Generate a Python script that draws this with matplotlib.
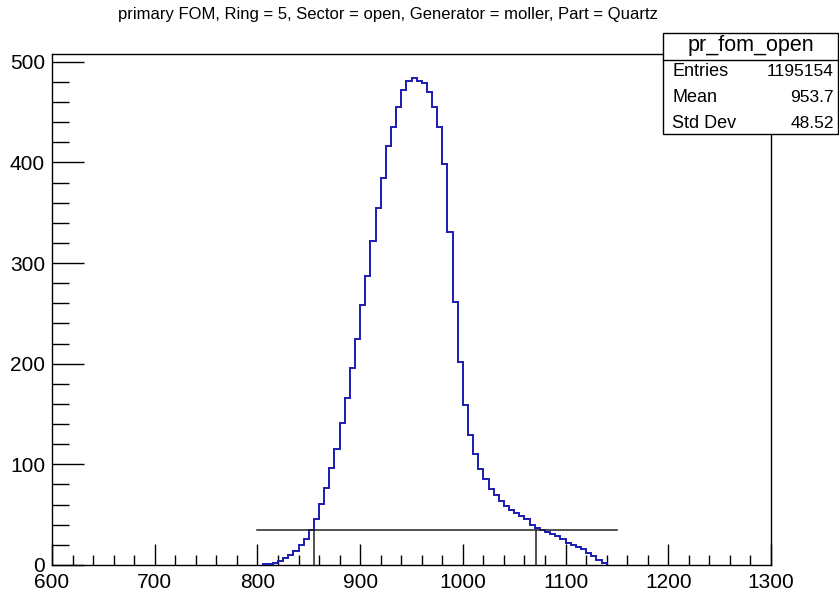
import numpy as np
import matplotlib
matplotlib.use('Agg')
import matplotlib.pyplot as plt
from matplotlib import font_manager
from matplotlib.patches import Rectangle
from matplotlib.lines import Line2D
from matplotlib.ticker import MultipleLocator

# histogram contents, 5-unit bins starting at 805
bin_lo = 805
bin_width = 5
counts = [0.5, 1.0, 2.3, 4.3, 6.6, 9.6, 14.2, 19.5, 25.8, 34.8,
          45.7, 60.3, 76.8, 96.5, 115.5, 141.0, 166.0, 195.5, 224.5, 258.0,
          287.6, 321.5, 355.0, 384.4, 416.0, 435.0, 454.6, 471.5, 480.4, 483.5,
          481.0, 478.7, 470.2, 454.6, 435.0, 398.6, 330.8, 261.7, 201.2, 158.8,
          129.0, 110.0, 95.7, 85.8, 75.9, 69.3, 63.6, 59.0, 54.7, 51.4,
          48.4, 45.7, 40.0, 36.8, 35.1, 33.1, 30.8, 28.5, 25.5, 21.6,
          19.9, 18.2, 15.6, 12.2, 8.9, 5.0, 1.7]

# cut lines
cut_level = 35
cut_xmin, cut_xmax = 800, 1150
cut_lo, cut_hi = 855, 1071

title = "primary FOM, Ring = 5, Sector = open, Generator = moller, Part = Quartz"
stats_name = "pr_fom_open"
stats_rows = [("Entries", "1195154"), ("Mean", "953.7"), ("Std Dev", "48.52")]

names = {f.name for f in font_manager.fontManager.ttflist}
main_font = 'Liberation Sans' if 'Liberation Sans' in names else 'DejaVu Sans'
plt.rcParams['font.family'] = main_font

W, H = 839, 592
fig = plt.figure(figsize=(W / 100, H / 100), dpi=100)
ax = fig.add_axes([52 / W, 1 - 565 / H, (771 - 52) / W, (565 - 54) / H])

edges = bin_lo + bin_width * np.arange(len(counts) + 1)
ax.stairs(counts, edges, baseline=0, color='#1c1cb0', lw=1.4, zorder=3)

ax.plot([cut_xmin, cut_xmax], [cut_level, cut_level], color='#222222', lw=1.1, zorder=4)
ax.plot([cut_lo, cut_lo], [0, cut_level], color='#222222', lw=1.1, zorder=4)
ax.plot([cut_hi, cut_hi], [0, cut_level], color='#222222', lw=1.1, zorder=4)

ax.set_xlim(600, 1300)
ax.set_ylim(0, 1.05 * max(counts))
ax.xaxis.set_major_locator(MultipleLocator(100))
ax.xaxis.set_minor_locator(MultipleLocator(20))
ax.yaxis.set_major_locator(MultipleLocator(100))
ax.yaxis.set_minor_locator(MultipleLocator(20))
ax.tick_params(axis='x', which='major', direction='in', length=15, width=1, labelsize=15, pad=6)
ax.tick_params(axis='x', which='minor', direction='in', length=7.5, width=1)
ax.tick_params(axis='y', which='major', direction='in', length=23, width=1, labelsize=15, pad=5)
ax.tick_params(axis='y', which='minor', direction='in', length=12, width=1)
for s in ax.spines.values():
    s.set_linewidth(1)

fig.text(118 / W, 1 - 14 / H, title, fontsize=12, ha='left', va='center')

# stats box
bx0, bx1, by0, by1 = 663, 838, 33, 134
fig.patches.append(Rectangle((bx0 / W, 1 - by1 / H), (bx1 - bx0) / W, (by1 - by0) / H,
                             transform=fig.transFigure, facecolor='white', edgecolor='black',
                             lw=1, zorder=5))
fig.lines.append(Line2D([bx0 / W, bx1 / W], [1 - 60 / H, 1 - 60 / H], transform=fig.transFigure,
                        color='black', lw=1, zorder=6))
fig.text((bx0 + bx1) / 2 / W, 1 - 45.5 / H, stats_name, fontsize=15.5, ha='center', va='center', zorder=7)
for i, (k, v) in enumerate(stats_rows):
    yy = 1 - (72 + 25.5 * i) / H
    fig.text(672 / W, yy, k, fontsize=13, ha='left', va='center', zorder=7)
    fig.text(834 / W, yy, v, fontsize=12.5, ha='right', va='center', zorder=7)

fig.savefig('out.png', dpi=100)
